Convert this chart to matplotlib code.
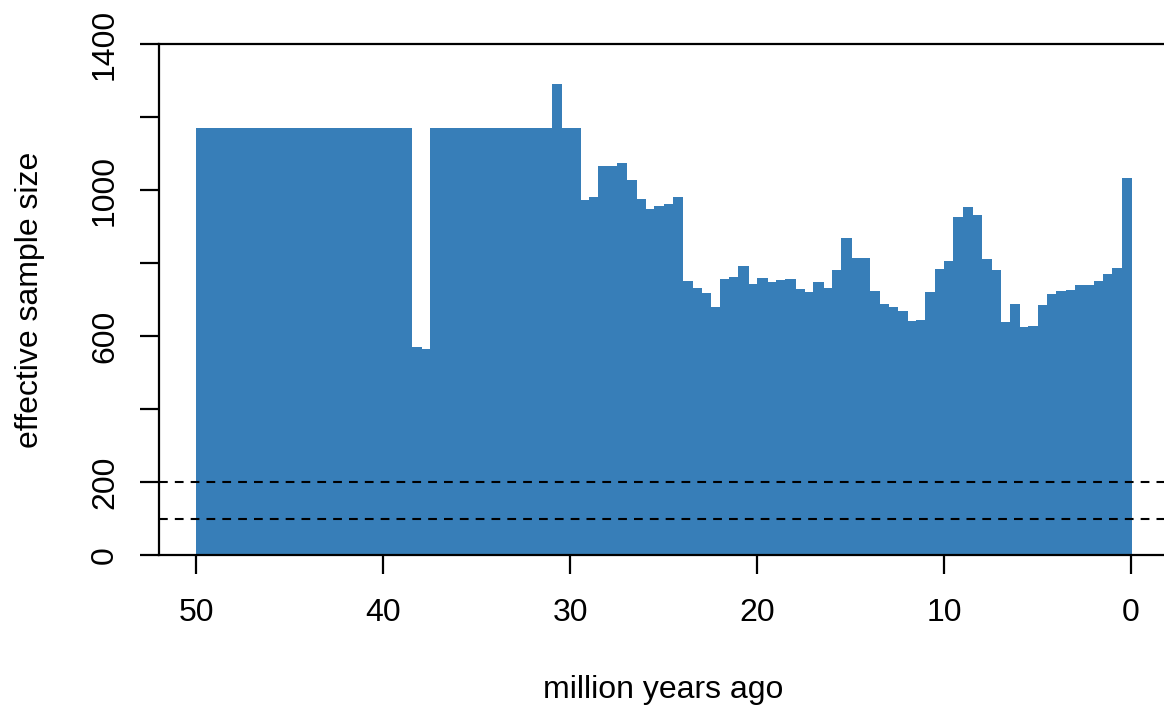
import matplotlib
matplotlib.use("Agg")
import matplotlib.pyplot as plt
import numpy as np

# Bin edges (million years ago), bins of 0.5 My from 50 down to 0
bin_start = np.arange(50.0, 0.0, -0.5)   # older edge of each bin
bin_width = 0.5

# effective sample size per bin, oldest (50-49.5) to youngest (0.5-0)
ess = (
    [1170] * 23 +
    [570, 564] +
    [1170] * 13 +
    [1290] +
    [1170, 1170] +
    [972, 982, 1066, 1066, 1074, 1027, 975, 948, 956, 962, 981,
     751, 731, 718, 679, 756, 762, 792, 742, 759, 748, 753, 756, 729, 721,
     748, 731, 781, 868, 814, 814,
     723, 688, 679, 668, 641, 644, 721, 784, 805, 926, 953, 932, 811, 781,
     638, 688, 625, 627, 685, 715, 723, 726, 740, 740, 751, 770, 786, 1033]
)

thresholds = [200, 100]
x_ticks = [50, 40, 30, 20, 10, 0]
y_ticks = [0, 200, 400, 600, 800, 1000, 1200, 1400]
y_ticklabels = ["0", "200", "", "600", "", "1000", "", "1400"]

plt.rcParams['font.family'] = ['Liberation Sans', 'DejaVu Sans']

W, H = 1164, 715
fig = plt.figure(figsize=(W / 100, H / 100), dpi=100)
left, right, bottom, top = 159 / W, 1168.4 / W, 1 - 555 / H, 1 - 44 / H
ax = fig.add_axes([left, bottom, right - left, top - bottom])

color = "#377EB8"
ax.bar(bin_start - bin_width, ess, width=bin_width, align="edge",
       color=color, edgecolor=color, linewidth=0.6, antialiased=False)

for t in thresholds:
    ax.axhline(t, color="black", linestyle=(0, (4.2, 3.4)), linewidth=1.5)

ax.set_xlim(52, -2)
ax.set_ylim(0, 1400)

ax.spines["right"].set_visible(False)
for s in ["left", "top", "bottom"]:
    ax.spines[s].set_linewidth(1.6)

fs = 23
ax.set_xticks(x_ticks)
ax.set_xticklabels([str(v) for v in x_ticks], fontsize=fs)
ax.set_yticks(y_ticks)
ax.set_yticklabels(y_ticklabels, fontsize=fs, rotation=90, va="center")
ax.tick_params(axis="both", length=14, width=1.6, direction="out")
ax.tick_params(axis="x", pad=17)
ax.tick_params(axis="y", pad=14)

fig.text(30 / W, 1 - 300 / H, "effective sample size", rotation=90,
         ha="center", va="center", fontsize=fs)
fig.text(663 / W, 1 - 690 / H, "million years ago",
         ha="center", va="center", fontsize=fs)

fig.savefig("out.png", dpi=100)
